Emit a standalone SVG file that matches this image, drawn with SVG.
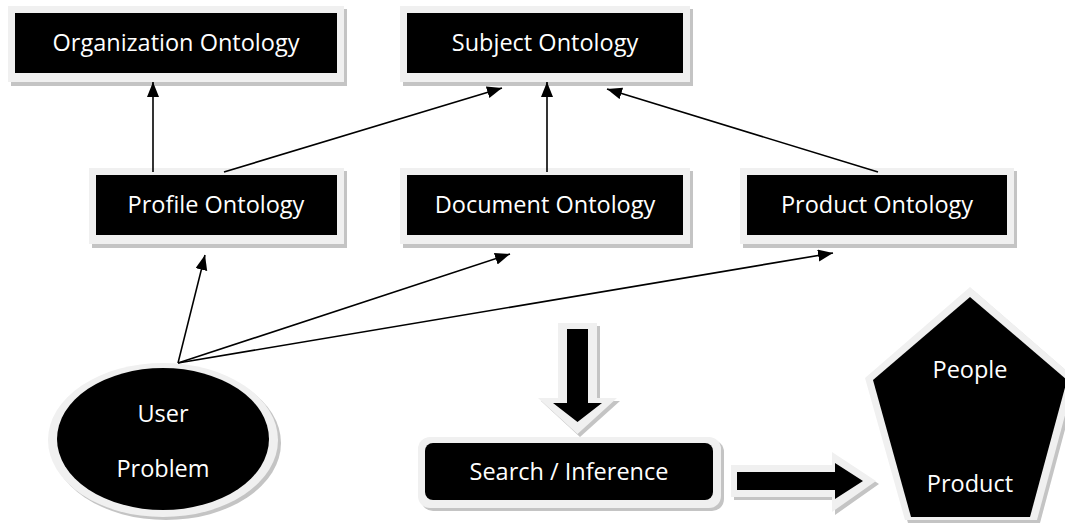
<svg xmlns="http://www.w3.org/2000/svg" width="1065" height="525" viewBox="0 0 1065 525">
<style>
.sh{fill:#c4c4c4}
.rim{fill:#f0f0f0}
.core{fill:#000}
.lbl{font-family:"Open Sans","Liberation Sans",sans-serif;font-size:23.5px;fill:#fff;text-anchor:middle}
.con{stroke:#000;stroke-width:1.6;fill:none;marker-end:url(#ah)}
</style>
<defs>
<marker id="ah" markerUnits="userSpaceOnUse" markerWidth="16" markerHeight="14" refX="15" refY="6" orient="auto">
<path d="M0,0 L15,6 L0,12 Z" fill="#000"/>
</marker>
</defs>
<rect width="1065" height="525" fill="#fff"/>

<g id="org">
<rect class="sh" x="11" y="9" width="336" height="77"/>
<rect class="rim" x="8" y="6" width="336" height="76"/>
<rect class="core" x="15" y="13" width="322" height="60"/>
<text class="lbl" x="176" y="51">Organization Ontology</text>
</g>
<g id="subject">
<rect class="sh" x="403" y="9" width="290" height="77"/>
<rect class="rim" x="400" y="6" width="290" height="76"/>
<rect class="core" x="407" y="13" width="276" height="60"/>
<text class="lbl" x="545" y="51">Subject Ontology</text>
</g>
<g id="profile">
<rect class="sh" x="92" y="171" width="255" height="77"/>
<rect class="rim" x="89" y="168" width="255" height="76"/>
<rect class="core" x="96" y="175" width="241" height="60"/>
<text class="lbl" x="216" y="213">Profile Ontology</text>
</g>
<g id="document">
<rect class="sh" x="403" y="171" width="290" height="77"/>
<rect class="rim" x="400" y="168" width="290" height="76"/>
<rect class="core" x="407" y="175" width="276" height="60"/>
<text class="lbl" x="545" y="213">Document Ontology</text>
</g>
<g id="product">
<rect class="sh" x="743" y="171" width="274" height="77"/>
<rect class="rim" x="740" y="168" width="274" height="76"/>
<rect class="core" x="747" y="175" width="260" height="60"/>
<text class="lbl" x="877" y="213">Product Ontology</text>
</g>
<g id="user">
<ellipse class="sh" cx="166" cy="443" rx="115" ry="77"/>
<ellipse class="rim" cx="163" cy="440" rx="115" ry="77"/>
<ellipse class="core" cx="163" cy="439" rx="106" ry="71"/>
<text class="lbl" x="163" y="422">User</text>
<text class="lbl" x="163" y="477">Problem</text>
</g>
<g id="search">
<rect class="sh" x="421" y="440" width="303" height="71" rx="12"/>
<rect class="rim" x="418" y="437" width="303" height="71" rx="12"/>
<rect class="core" x="425" y="443" width="288" height="57" rx="8"/>
<text class="lbl" x="569" y="480">Search / Inference</text>
</g>
<g id="result">
<polygon class="sh" points="973,290 1078,381 1040,523 908,523 868,381"/>
<polygon class="rim" points="970,287 1075,378 1037,520 905,520 865,378"/>
<polygon class="core" points="970,297 1067,380 1030,517 911,517 873,380"/>
<text class="lbl" x="970" y="378">People</text>
<text class="lbl" x="970" y="492">Product</text>
</g>

<g id="connectors">
<path class="con" d="M153,172 L153,82"/>
<path class="con" d="M224,172 L502,88"/>
<path class="con" d="M547,172 L547,82"/>
<path class="con" d="M878,172 L607,89"/>
<path class="con" d="M178,363 L205,255"/>
<path class="con" d="M178,363 L510,254"/>
<path class="con" d="M178,363 L833,253"/>
<g id="down-arrow">
<polygon class="sh" points="561,326 600,326 600,401 620,401 580,437 541,401 561,401"/>
<polygon class="rim" points="558,323 597,323 597,398 617,398 577.5,434 538,398 558,398"/>
<polygon class="core" points="567,329 588,329 588,403 602,403 577.5,422 553,403 567,403"/>
</g>
<g id="right-arrow">
<polygon class="sh" points="734,468 835,468 835,455 879,484 835,515 835,500 734,500"/>
<polygon class="rim" points="731,465 832,465 832,452 876,481 832,512 832,497 731,497"/>
<polygon class="core" points="737,472 835,472 835,463 863,481 835,499 835,490 737,490"/>
</g>
</g>
</svg>
